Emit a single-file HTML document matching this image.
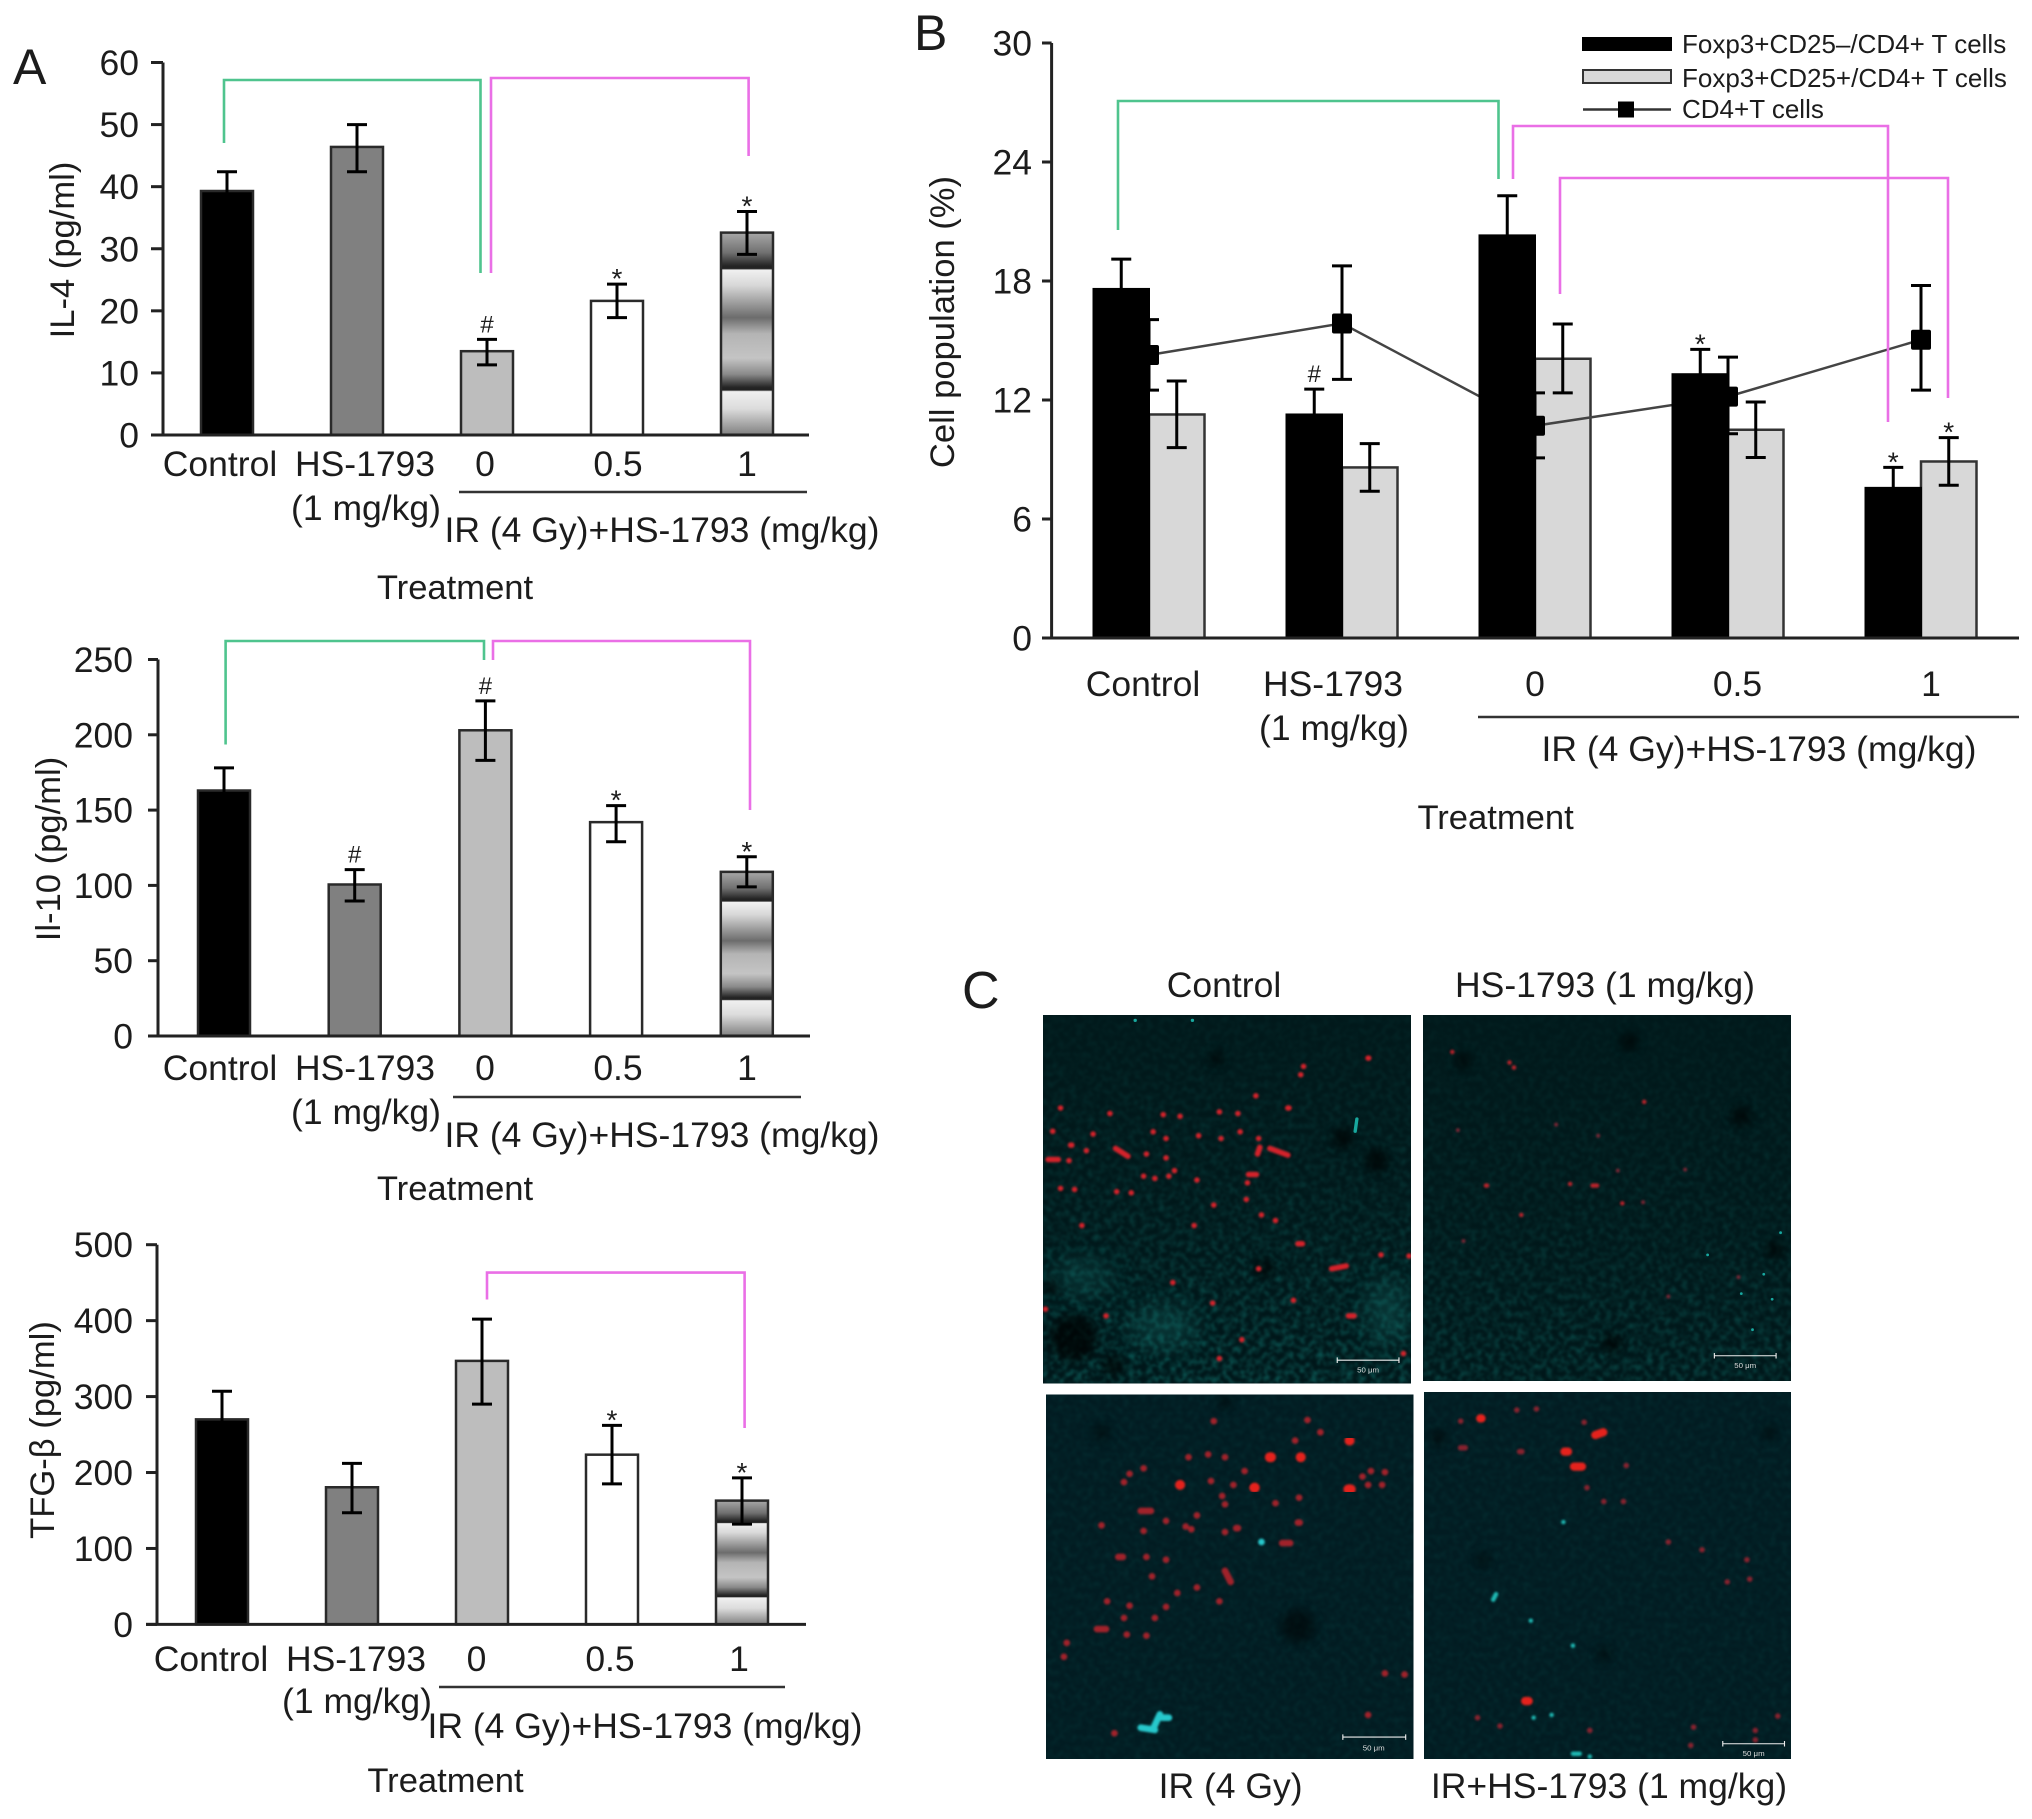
<!DOCTYPE html>
<html lang="en">
<head>
<meta charset="utf-8">
<title>Cytokine levels and T cell populations</title>
<style>
html,body{margin:0;padding:0;background:#fff;}
svg{position:absolute;left:0;top:0;display:block;font-family:"Liberation Sans",Arial,sans-serif;fill:#1c1c1c;}
.lbl{font-size:35.5px;}
.ttl{font-size:34.6px;}
.mid{text-anchor:middle;}
.leg{font-size:26px;}
.br{fill:none;stroke-width:2.6;}
.g{stroke:#4fc48e;}
.p{stroke:#ea6fe6;}
</style>
</head>
<body>
<svg id="fig" xmlns="http://www.w3.org/2000/svg" width="2032" height="1819" viewBox="0 0 2032 1819">
<defs>
<linearGradient id="bandGrad" x1="0" y1="0" x2="0" y2="1">
<stop offset="0" stop-color="#a8a8a8"/><stop offset=".1" stop-color="#707070"/><stop offset=".165" stop-color="#242424"/><stop offset=".178" stop-color="#222"/><stop offset=".185" stop-color="#f0f0f0"/><stop offset=".26" stop-color="#d8d8d8"/><stop offset=".42" stop-color="#6c6c6c"/><stop offset=".5" stop-color="#b4b4b4"/><stop offset=".62" stop-color="#c4c4c4"/><stop offset=".7" stop-color="#8a8a8a"/><stop offset=".765" stop-color="#242424"/><stop offset=".778" stop-color="#222"/><stop offset=".785" stop-color="#f0f0f0"/><stop offset=".87" stop-color="#dcdcdc"/><stop offset="1" stop-color="#808080"/>
</linearGradient>
<filter id="speckle" x="0" y="0" width="100%" height="100%" color-interpolation-filters="sRGB">
<feTurbulence type="fractalNoise" baseFrequency=".17" numOctaves="2" seed="7"/>
<feColorMatrix values="0 0 0 0 .04  0 0 0 0 .33  0 0 0 0 .32  2.3 0 0 0 -.9"/>
<feGaussianBlur stdDeviation="1"/>
</filter>
<filter id="soft" x="-40%" y="-40%" width="180%" height="180%"><feGaussianBlur stdDeviation="9"/></filter>
<filter id="haze" x="-40%" y="-40%" width="180%" height="180%"><feGaussianBlur stdDeviation="22"/></filter>
<filter id="dotblur" x="-5%" y="-5%" width="110%" height="110%"><feGaussianBlur stdDeviation="2"/></filter>
<linearGradient id="fadeTop" x1="0" y1="0" x2="0" y2="1"><stop offset="0" stop-color="#01191b" stop-opacity=".85"/><stop offset=".45" stop-color="#01191b" stop-opacity=".6"/><stop offset="1" stop-color="#01191b" stop-opacity="0"/></linearGradient>
<linearGradient id="fadeTop2" x1="0" y1="0" x2="0" y2="1"><stop offset="0" stop-color="#01191b" stop-opacity=".88"/><stop offset=".55" stop-color="#01191b" stop-opacity=".65"/><stop offset="1" stop-color="#01191b" stop-opacity=".25"/></linearGradient>
<clipPath id="clipTL"><rect x="1043" y="1015" width="368" height="368.500"/></clipPath>
<clipPath id="clipTR"><rect x="1423" y="1015" width="368" height="366"/></clipPath>
<clipPath id="clipBL"><rect x="1046" y="1394.500" width="367.500" height="364.500"/></clipPath>
<clipPath id="clipBR"><rect x="1424" y="1392" width="367" height="367"/></clipPath>
</defs>

<!-- Panel letters -->
<text x="13" y="84" font-size="50">A</text>
<text x="914" y="50" font-size="50">B</text>
<text x="962" y="1008" font-size="52">C</text>

<!-- Panel A / IL-4 annotations -->
<g>
<g id="il4"></g>
<path class="br g" d="M224 143V80H480.500V273"/>
<path class="br p" d="M491 273V78H748.600V156"/>
<text class="ttl" transform="translate(74,250) rotate(-90)" text-anchor="middle">IL-4 (pg/ml)</text>
<text class="lbl mid" x="366" y="520">(1 mg/kg)</text>
<line x1="459" x2="807" y1="492" y2="492" stroke="#333" stroke-width="2.500"/>
<text class="lbl mid" x="662" y="542">IR (4 Gy)+HS-1793 (mg/kg)</text>
<text class="ttl mid" x="455" y="599">Treatment</text>
</g>

<!-- IL-10 annotations -->
<g>
<g id="il10"></g>
<path class="br g" d="M225.600 744.500V641H484V660"/>
<path class="br p" d="M493 660V641H750V810"/>
<text class="ttl" transform="translate(60,849) rotate(-90)" text-anchor="middle">Il-10 (pg/ml)</text>
<text class="lbl mid" x="366" y="1124">(1 mg/kg)</text>
<line x1="453" x2="801" y1="1097" y2="1097" stroke="#333" stroke-width="2.500"/>
<text class="lbl mid" x="662" y="1147">IR (4 Gy)+HS-1793 (mg/kg)</text>
<text class="ttl mid" x="455" y="1200">Treatment</text>
</g>

<!-- TGF annotations -->
<g>
<g id="tgf"></g>
<path class="br p" d="M487 1299.500V1272.600H744.600V1428"/>
<text class="ttl" transform="translate(54,1430) rotate(-90)" text-anchor="middle">TFG-β (pg/ml)</text>
<text class="lbl mid" x="357" y="1713">(1 mg/kg)</text>
<line x1="439" x2="785" y1="1687" y2="1687" stroke="#333" stroke-width="2.500"/>
<text class="lbl mid" x="645" y="1738">IR (4 Gy)+HS-1793 (mg/kg)</text>
<text class="ttl mid" x="445.500" y="1792">Treatment</text>
</g>

<!-- Panel B annotations -->
<g>
<g id="cells"></g>
<path class="br g" d="M1118 230V101H1498.500V179"/>
<path class="br p" d="M1513 179V126H1888V422"/>
<path class="br p" d="M1560 294V178H1948V398"/>
<text class="ttl" transform="translate(954,322) rotate(-90)" text-anchor="middle">Cell population (%)</text>
<text class="lbl mid" x="1334" y="740">(1 mg/kg)</text>
<line x1="1478" x2="2019" y1="717" y2="717" stroke="#333" stroke-width="2.500"/>
<text class="lbl mid" x="1759" y="761">IR (4 Gy)+HS-1793 (mg/kg)</text>
<text class="ttl mid" x="1495.600" y="829">Treatment</text>
<g>
<g>
<rect x="1583" y="38" width="88" height="12" fill="#000" stroke="#000" stroke-width="2"/>
<text class="leg" x="1682" y="53">Foxp3+CD25–/CD4+ T cells</text>
</g>
<g>
<rect x="1583" y="70" width="88" height="13" fill="#d8d8d8" stroke="#333" stroke-width="2"/>
<text class="leg" x="1682" y="87">Foxp3+CD25+/CD4+ T cells</text>
</g>
<g>
<line x1="1583" x2="1671" y1="109.500" y2="109.500" stroke="#333" stroke-width="2.500"/>
<rect x="1618" y="101.500" width="16" height="16" fill="#000"/>
<text class="leg" x="1682" y="118">CD4+T cells</text>
</g>
</g>
</g>

<!-- Panel C micrographs -->
<g>
<text class="lbl mid" x="1224" y="997">Control</text>
<text class="lbl mid" x="1605" y="997">HS-1793 (1 mg/kg)</text>
<text class="lbl mid" x="1230.600" y="1798">IR (4 Gy)</text>
<text class="lbl mid" x="1609" y="1798">IR+HS-1793 (1 mg/kg)</text>

<g clip-path="url(#clipTL)">
<rect x="1043" y="1015" width="368" height="368.500" fill="#01171a"/>
<rect x="1043" y="1015" width="368" height="368.500" filter="url(#speckle)"/>
<rect x="1043" y="1015" width="368" height="368.500" fill="url(#fadeTop)"/>
<g transform="translate(950,950) scale(.5612,.5543)">
<g fill="#000" opacity=".7" filter="url(#soft)"><circle cx="560" cy="575" r="16"/><circle cx="220" cy="700" r="42"/><circle cx="475" cy="195" r="12"/><circle cx="760" cy="380" r="20"/><circle cx="700" cy="340" r="18"/><circle cx="290" cy="750" r="18"/><circle cx="180" cy="610" r="14"/></g>
<g fill="#1a8f88" opacity=".26" filter="url(#haze)"><ellipse cx="235" cy="590" rx="55" ry="26"/><ellipse cx="380" cy="680" rx="60" ry="36"/><ellipse cx="780" cy="650" rx="36" ry="60"/></g>
<path filter="url(#dotblur)" fill="none" stroke="#d4222a" stroke-width="10" stroke-linecap="round" d="M745 195h1M630 210h0M625 225h0M545 263h0M602 285h2M285 295h0M197 285h0M380 297h0M410 300h0M480 292h0M513 295h0M183 327h0M255 332h0M362 328h0M385 340h0M443 335h0M517 328h0M483 340h0M550 340h0M215 352h2M243 362h0M295 358l22 14M350 368h0M385 375h0M548 368l4-12M570 358l32 12M175 378h18M212 380h0M400 398h0M390 408h0M365 412h0M345 408h0M440 415h0M532 405h14M197 430h0M222 432h0M297 436h0M323 438h0M530 420h0M470 460h0M528 450h0M555 478h0M580 488h0M235 497h0M435 497h0M620 530h8M768 550h0M680 575l26-5M550 575h0M397 600h0M468 637h0M612 632h0M278 660h0M710 660h10M520 703h0M480 737h0M808 728h0M818 552h0M170 648h0"/>
<path fill="none" stroke="#18a89e" stroke-width="6" stroke-linecap="round" d="M330 127h0M432 127h0M725 305l-3 22"/>
<path fill="none" stroke="#eee" stroke-width="2" d="M690 740H800M690 735v10M800 735v10"/>
<text x="745" y="762" font-size="14" text-anchor="middle" style="fill:#ddd">50 μm</text>
</g>
</g>

<g clip-path="url(#clipTR)">
<rect x="1423" y="1015" width="368" height="366" fill="#01171a"/>
<rect x="1423" y="1015" width="368" height="366" filter="url(#speckle)"/>
<rect x="1423" y="1015" width="368" height="366" fill="url(#fadeTop2)"/>
<g transform="translate(950,950) scale(.5612,.5543)">
<g fill="#000" opacity=".65" filter="url(#soft)"><circle cx="1410" cy="300" r="18"/><circle cx="1470" cy="540" r="16"/><circle cx="1210" cy="165" r="16"/><circle cx="915" cy="200" r="14"/><circle cx="1180" cy="710" r="18"/></g>
<path filter="url(#dotblur)" fill="none" stroke="#b8222a" stroke-width="8" stroke-linecap="round" d="M895 184h0M997 203h0M1005 212h0M1237 274h0M955 425h2M1105 422h0M1145 425h8M1198 457h0M1018 478h0"/>
<path filter="url(#dotblur)" fill="none" stroke="#7a2634" stroke-width="7" stroke-linecap="round" d="M905 325h0M1235 455h0M1190 398h0M1310 396h0M1080 315h0M1155 335h0M1405 590h0M1280 625h0M915 525h0"/>
<path fill="none" stroke="#18a8a0" stroke-width="5" stroke-linecap="round" d="M1410 620h0M1430 685h0M1465 630h0M1480 510h0M1450 585h0M1350 550h0"/>
<path fill="none" stroke="#eee" stroke-width="2" d="M1362 732H1472M1362 727v10M1472 727v10"/>
<text x="1417" y="754" font-size="14" text-anchor="middle" style="fill:#ddd">50 μm</text>
</g>
</g>

<g clip-path="url(#clipBL)">
<rect x="1046" y="1394.500" width="367.500" height="364.500" fill="#021c22"/>
<rect x="1046" y="1394.500" width="367.500" height="364.500" filter="url(#speckle)" opacity=".22"/>
<g transform="translate(950,950) scale(.5612,.5543)">
<g fill="#000" opacity=".5" filter="url(#soft)"><circle cx="490" cy="815" r="12"/><circle cx="620" cy="1220" r="30"/><circle cx="270" cy="870" r="14"/></g>
<path filter="url(#dotblur)" fill="none" stroke="#a0202a" stroke-width="12" stroke-linecap="round" d="M637 848h0M660 870h0M750 940h0M735 950h0M745 965h0M770 965h0M775 942h0M465 958h0M540 970h2M505 965h0M485 985h0M490 1000h0M345 935h0M320 945h0M310 960h0M622 988h0M580 998h0M620 1033h3M510 1043h3M340 1012h18M385 1030h0M420 1040h0M440 1020h0M430 1045h0M345 1048h0M490 1050h0M592 1070h14M300 1095h8M350 1095h0M385 1100h0M270 1038h0M490 1120l10 20M360 1130h0M440 1150h0M405 1160h0M480 1175h0M280 1175h0M320 1183h0M385 1185h0M365 1205h0M310 1205h0M262 1225h16M315 1235h0M350 1237h0M208 1250h0M203 1275h0M425 915h0M460 910h0M490 915h0M525 940h0M470 850h0M615 885h0M745 1380h0M810 1307h0M775 1305h0M293 1413h0"/>
<path filter="url(#dotblur)" fill="none" stroke="#e5211f" stroke-width="18" stroke-linecap="round" d="M570 915h2M710 973h4M625 915h0M712 885h0M410 965h0M543 970h0"/>
<path filter="url(#dotblur)" fill="none" stroke="#26c8cc" stroke-width="12" stroke-linecap="round" d="M340 1403l25 4M362 1405l12-26M378 1385h12M555 1068h0"/>
<path fill="none" stroke="#eee" stroke-width="2" d="M700 1420H812M700 1415v10M812 1415v10"/>
<text x="755" y="1444" font-size="14" text-anchor="middle" style="fill:#ddd">50 μm</text>
</g>
</g>

<g clip-path="url(#clipBR)">
<rect x="1424" y="1392" width="367" height="367" fill="#021c22"/>
<rect x="1424" y="1392" width="367" height="367" filter="url(#speckle)" opacity=".22"/>
<g transform="translate(950,950) scale(.5612,.5543)">
<g fill="#000" opacity=".55" filter="url(#soft)"><circle cx="950" cy="1100" r="12"/><circle cx="1165" cy="1270" r="12"/><circle cx="870" cy="880" r="14"/><circle cx="1460" cy="870" r="12"/></g>
<path filter="url(#dotblur)" fill="none" stroke="#86222e" stroke-width="10" stroke-linecap="round" d="M1130 852h0M1015 905h4M910 850h0M1010 830h0M1045 828h0M1205 930h0M910 898h8M1165 995h0M1200 995h0M1135 970h0M1280 1068h0M1340 1082h0M1425 1135h0M1420 1100h0M940 1385h0M1325 1402h0M1435 1425h0M1435 1408h0M1475 1382h0M1320 1435h0M1140 1408h0M980 1400h0M1385 1140h0"/>
<path filter="url(#dotblur)" fill="none" stroke="#e5211f" stroke-width="15" stroke-linecap="round" d="M945 845h2M1150 875l14-5M1095 905h6M1112 932h14M1025 1355h6"/>
<path filter="url(#dotblur)" fill="none" stroke="#1fb8b2" stroke-width="8" stroke-linecap="round" d="M968 1172l5-10M1093 1032h0M1072 1380h0M1040 1385h0M1110 1450h12M1140 1455h0M1035 1210h0M1110 1255h0"/>
<path fill="none" stroke="#eee" stroke-width="2" d="M1377 1432H1487M1377 1427v10M1487 1427v10"/>
<text x="1432" y="1454" font-size="14" text-anchor="middle" style="fill:#ddd">50 μm</text>
</g>
</g>
</g>
</svg>

<script>
// ---- IL-4 data ----
const il4Categories = ['Control', 'HS-1793', '0', '0.5', '1'];
const il4Values = [39.3, 46.4, 13.5, 21.6, 32.6];
const il4ErrHigh = [42.4, 50, 15.4, 24.3, 36];
const il4ErrLow = [36.2, 42.4, 11.3, 18.9, 29.1];
const il4Marks = ['', '', '#', '*', '*'];
const il4Ticks = [0, 10, 20, 30, 40, 50, 60];

// ---- IL-10 data ----
const il10Categories = ['Control', 'HS-1793', '0', '0.5', '1'];
const il10Values = [163, 100.6, 203, 142, 109];
const il10ErrHigh = [178, 110.5, 222.5, 153, 119];
const il10ErrLow = [148, 89.6, 183, 129, 99];
const il10Marks = ['', '#', '#', '*', '*'];
const il10Ticks = [0, 50, 100, 150, 200, 250];

// ---- TGF-beta data ----
const tgfCategories = ['Control', 'HS-1793', '0', '0.5', '1'];
const tgfValues = [270, 180.6, 347, 223.5, 163];
const tgfErrHigh = [307, 212, 402, 262, 193];
const tgfErrLow = [233, 147, 290, 185, 132];
const tgfMarks = ['', '', '', '*', '*'];
const tgfTicks = [0, 100, 200, 300, 400, 500];

// ---- Cell population data ----
const cellCategories = ['Control', 'HS-1793', '0', '0.5', '1'];
const cd25NegValues = [17.6, 11.27, 20.3, 13.3, 7.57];
const cd25NegHigh = [19.1, 12.55, 22.3, 14.55, 8.6];
const cd25NegLow = [16.1, 9.99, 18.3, 12.05, 6.54];
const cd25NegMarks = ['', '#', '', '*', '*'];
const cd25PosValues = [11.27, 8.6, 14.08, 10.5, 8.9];
const cd25PosHigh = [12.96, 9.8, 15.83, 11.9, 10.1];
const cd25PosLow = [9.6, 7.4, 12.36, 9.1, 7.7];
const cd25PosMarks = ['', '', '', '', '*'];
const cd4Values = [14.27, 15.86, 10.7, 12.17, 15.04];
const cd4High = [16.05, 18.76, 12.36, 14.16, 17.77];
const cd4Low = [12.5, 13.04, 9.08, 10.3, 12.5];
const cellTicks = [0, 6, 12, 18, 24, 30];

// ---- Layout (pixels), kept apart from the data ----
const barFills = ['#000', '#808080', '#bdbdbd', '#fff', 'url(#bandGrad)'];
const il4Layout = {axisX: 163, y0: 435, yTop: 62.5, yMax: 60, xStart: 151, xEnd: 809, first: 227, step: 130, barW: 52, tickRight: 139, labelBase: 476, labelX: [220, 365, 485, 618, 747]};
const il10Layout = {axisX: 158, y0: 1036, yTop: 659.5, yMax: 250, xStart: 148, xEnd: 810, first: 224, step: 130.7, barW: 52, tickRight: 133, labelBase: 1080, labelX: [220, 365, 485, 618, 747]};
const tgfLayout = {axisX: 157, y0: 1624.4, yTop: 1244.7, yMax: 500, xStart: 146, xEnd: 806, first: 222, step: 130, barW: 52, tickRight: 133, labelBase: 1671, labelX: [211, 356, 476.5, 610, 739]};
const cellLayout = {axisX: 1051.6, y0: 638, yTop: 43, yMax: 30, xStart: 1042, xEnd: 2019, first: 1149, step: 193, barW: 55.5, tickRight: 1032, labelBase: 696, labelX: [1143, 1333, 1535, 1737.5, 1931]};

const SVG_NS = 'http://www.w3.org/2000/svg';
function shape(parent, tag, attrs, text) {
  const node = document.createElementNS(SVG_NS, tag);
  for (const key in attrs) node.setAttribute(key, attrs[key]);
  if (text !== undefined) node.textContent = text;
  parent.appendChild(node);
  return node;
}
function yScale(layout, v) {
  return layout.y0 - (v / layout.yMax) * (layout.y0 - layout.yTop);
}
function xScale(layout, i) {
  return layout.first + i * layout.step;
}
function drawAxes(root, layout, ticks, categories) {
  const yAxis = shape(root, 'line', {x1: layout.axisX, x2: layout.axisX, y1: layout.yTop, y2: layout.y0, stroke: '#222', 'stroke-width': 3});
  
  
  const xAxis = shape(root, 'line', {x1: layout.xStart, x2: layout.xEnd, y1: layout.y0, y2: layout.y0, stroke: '#222', 'stroke-width': 3});
  
  
  ticks.forEach(function (t) {
    const y = yScale(layout, t);
    const mark = shape(root, 'line', {x1: layout.xStart, x2: layout.axisX, y1: y, y2: y, stroke: '#222', 'stroke-width': 3});
    
    
    const label = shape(root, 'text', {x: layout.tickRight, y: y + 12.5, 'text-anchor': 'end', 'font-size': 35.5}, String(t));
    
    
  });
  categories.forEach(function (c, i) {
    const label = shape(root, 'text', {x: layout.labelX[i], y: layout.labelBase, 'text-anchor': 'middle', 'font-size': 35.5}, c);
    
    
  });
}
function drawError(root, layout, x, hi, lo) {
  const top = yScale(layout, hi);
  const bottom = yScale(layout, lo);
  const err = shape(root, 'path', {d: 'M' + (x - 10) + ' ' + top + 'H' + (x + 10) + 'M' + x + ' ' + top + 'V' + bottom + 'M' + (x - 10) + ' ' + bottom + 'H' + (x + 10), fill: 'none', stroke: '#000', 'stroke-width': 3});
  
  
}
function drawMark(root, layout, x, hi, symbol) {
  if (!symbol) return;
  const top = yScale(layout, hi);
  const isStar = symbol === '*';
  const sign = shape(root, 'text', {x: x, y: isStar ? top + 4 : top - 7, 'text-anchor': 'middle', 'font-size': isStar ? 28 : 24}, symbol);
  
  
}
function drawBars(root, layout, categories, values, high, low, marks) {
  values.forEach(function (v, i) {
    const x = xScale(layout, i);
    const y = yScale(layout, v);
    const bar = shape(root, 'rect', {x: x - layout.barW / 2, y: y, width: layout.barW, height: layout.y0 - y, fill: barFills[i], stroke: '#2a2a2a', 'stroke-width': 2.5});
    
    
    drawError(root, layout, x, high[i], low[i]);
    drawMark(root, layout, x, high[i], marks[i]);
  });
}
function drawCells(root, layout) {
  const w = layout.barW;
  cellCategories.forEach(function (c, i) {
    const x = xScale(layout, i);
    const yPos = yScale(layout, cd25PosValues[i]);
    const pos = shape(root, 'rect', {x: x, y: yPos, width: w, height: layout.y0 - yPos, fill: '#d8d8d8', stroke: '#333', 'stroke-width': 2.5});
    
    
    drawError(root, layout, x + w / 2, cd25PosHigh[i], cd25PosLow[i]);
    drawMark(root, layout, x + w / 2, cd25PosHigh[i], cd25PosMarks[i]);
  });
  const pts = cd4Values.map(function (v, i) {
    return xScale(layout, i) + ',' + yScale(layout, v);
  }).join(' ');
  const line = shape(root, 'polyline', {points: pts, fill: 'none', stroke: '#444', 'stroke-width': 2.5});
  
  
  cellCategories.forEach(function (c, i) {
    const x = xScale(layout, i);
    const yNeg = yScale(layout, cd25NegValues[i]);
    const neg = shape(root, 'rect', {x: x - w, y: yNeg, width: w, height: layout.y0 - yNeg, fill: '#000', stroke: '#000', 'stroke-width': 2});
    
    
    drawError(root, layout, x - w / 2, cd25NegHigh[i], cd25NegLow[i]);
    drawMark(root, layout, x - w / 2, cd25NegHigh[i], cd25NegMarks[i]);
  });
  cd4Values.forEach(function (v, i) {
    const x = xScale(layout, i);
    const y = yScale(layout, v);
    drawError(root, layout, x, cd4High[i], cd4Low[i]);
    const point = shape(root, 'rect', {x: x - 10, y: y - 10, width: 20, height: 20, rx: 2, fill: '#000'});
    
    
  });
}

const il4Root = document.getElementById('il4');
drawBars(il4Root, il4Layout, il4Categories, il4Values, il4ErrHigh, il4ErrLow, il4Marks);
drawAxes(il4Root, il4Layout, il4Ticks, il4Categories);

const il10Root = document.getElementById('il10');
drawBars(il10Root, il10Layout, il10Categories, il10Values, il10ErrHigh, il10ErrLow, il10Marks);
drawAxes(il10Root, il10Layout, il10Ticks, il10Categories);

const tgfRoot = document.getElementById('tgf');
drawBars(tgfRoot, tgfLayout, tgfCategories, tgfValues, tgfErrHigh, tgfErrLow, tgfMarks);
drawAxes(tgfRoot, tgfLayout, tgfTicks, tgfCategories);

const cellRoot = document.getElementById('cells');
drawCells(cellRoot, cellLayout);
drawAxes(cellRoot, cellLayout, cellTicks, cellCategories);
</script>
</body>
</html>
